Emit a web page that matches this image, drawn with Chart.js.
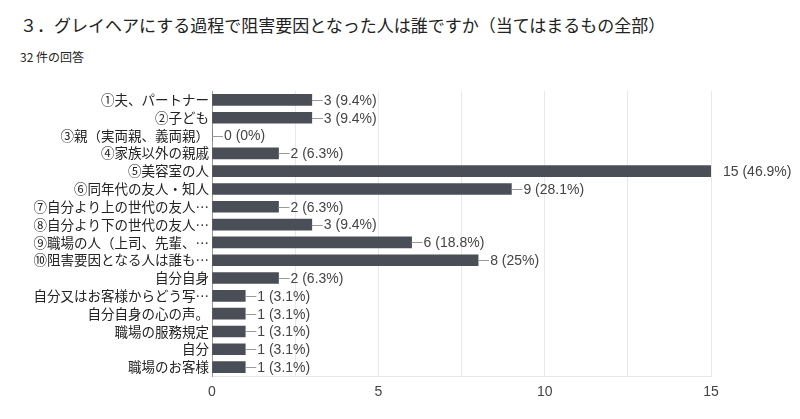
<!DOCTYPE html>
<html>
<head>
<meta charset="utf-8">
<script src="https://cdn.jsdelivr.net/npm/chart.js"></script>
<style>
  body { margin: 0; background: #fff; font-family: "Noto Sans CJK JP", sans-serif; }
  #wrap { position: relative; width: 800px; height: 419px; overflow: hidden; }
  #title { position: absolute; left: 20px; top: 12px; font-size: 17px; color: #222; white-space: nowrap; }
  #sub { position: absolute; left: 20px; top: 48px; font-size: 12px; color: #222; }
  canvas { position: absolute; left: 0; top: 0; }
</style>
</head>
<body>
<div id="wrap">
  <div id="title">３．グレイヘアにする過程で阻害要因となった人は誰ですか（当てはまるもの全部）</div>
  <div id="sub">32 件の回答</div>
  <canvas id="chart" width="800" height="419"></canvas>
</div>
<script>
// 回答項目
const categories = [
  "①夫、パートナー",
  "②子ども",
  "③親（実両親、義両親）",
  "④家族以外の親戚",
  "⑤美容室の人",
  "⑥同年代の友人・知人",
  "⑦自分より上の世代の友人…",
  "⑧自分より下の世代の友人…",
  "⑨職場の人（上司、先輩、…",
  "⑩阻害要因となる人は誰も…",
  "自分自身",
  "自分又はお客様からどう写…",
  "自分自身の心の声。",
  "職場の服務規定",
  "自分",
  "職場のお客様"
];
const counts = [3, 3, 0, 2, 15, 9, 2, 3, 6, 8, 2, 1, 1, 1, 1, 1];
const percents = ["9.4%", "9.4%", "0%", "6.3%", "46.9%", "28.1%", "6.3%", "9.4%", "18.8%", "25%", "6.3%", "3.1%", "3.1%", "3.1%", "3.1%", "3.1%"];
const xTicks = [0, 5, 10, 15];

// 値ラベル（引き出し線つき）
const valueLabels = {
  id: 'valueLabels',
  afterDatasetsDraw(chart) {
    const ctx = chart.ctx;
    const meta = chart.getDatasetMeta(0);
    const area = chart.chartArea;
    ctx.save();
    ctx.font = '14px "Liberation Sans", Arial, sans-serif';
    ctx.textBaseline = 'middle';
    ctx.fillStyle = '#444';
    meta.data.forEach((bar, i) => {
      const x = bar.x;
      const y = bar.y;
      if (x + 10 < area.right - 1) {
        ctx.strokeStyle = '#999';
        ctx.lineWidth = 1;
        ctx.beginPath();
        ctx.moveTo(x, Math.round(y) + 0.5);
        ctx.lineTo(x + 11, Math.round(y) + 0.5);
        ctx.stroke();
      }
      ctx.fillText(`${counts[i]} (${percents[i]})`, x + 12, y + 1);
    });
    ctx.restore();
  }
};

new Chart(document.getElementById('chart'), {
  type: 'bar',
  data: {
    labels: categories,
    datasets: [{
      data: counts,
      backgroundColor: '#4a4e57',
      barThickness: 11
    }]
  },
  options: {
    indexAxis: 'y',
    responsive: false,
    animation: false,
    layout: { padding: { top: 91, right: 89, left: 0, bottom: 0 } },
    plugins: {
      legend: { display: false },
      tooltip: { enabled: false }
    },
    scales: {
      x: {
        min: 0,
        max: 15,
        afterFit: (s) => { s.height = 43; },
        afterBuildTicks: (s) => {
          const t = [];
          for (let v = 0; v <= 15; v += 2.5) t.push({ value: v });
          s.ticks = t;
        },
        ticks: {
          autoSkip: false,
          maxRotation: 0,
          padding: 8,
          color: '#444',
          font: { size: 14, family: '"Liberation Sans", Arial, sans-serif' },
          callback: (v) => xTicks.includes(v) ? String(v) : ''
        },
        grid: { color: '#e8e8e8', drawTicks: false },
        border: { color: '#e8e8e8' }
      },
      y: {
        afterFit: (s) => { s.width = 212; },
        ticks: {
          autoSkip: false,
          padding: 3,
          color: '#222',
          font: { size: 13.5, family: 'Noto Sans CJK JP' }
        },
        grid: { display: false, drawTicks: false },
        border: { color: '#999' }
      }
    }
  },
  plugins: [valueLabels]
});
</script>
</body>
</html>
